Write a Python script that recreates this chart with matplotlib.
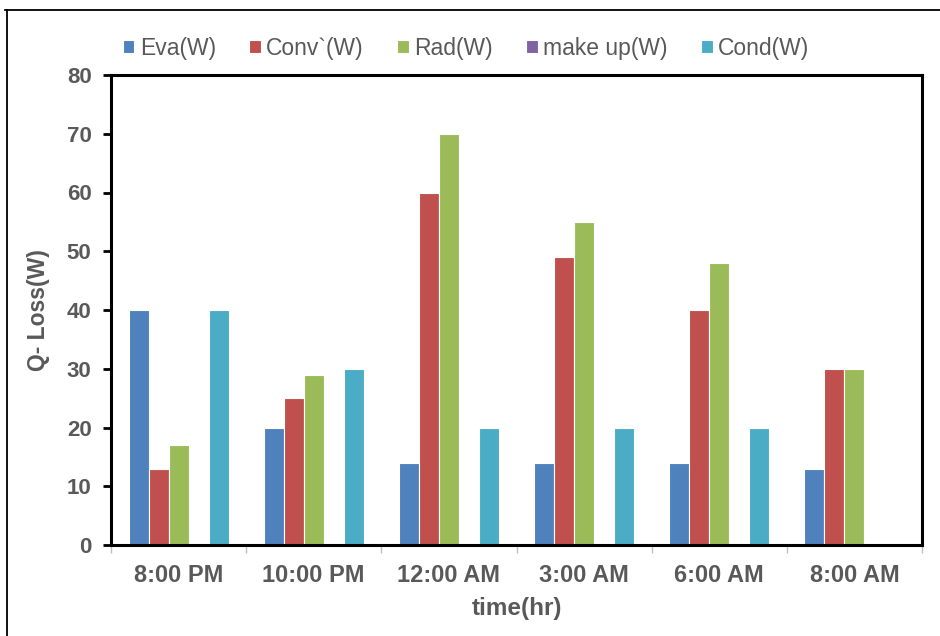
import matplotlib
matplotlib.use("Agg")
import matplotlib.pyplot as plt
import numpy as np
from matplotlib.lines import Line2D

categories = ["8:00 PM", "10:00 PM", "12:00 AM", "3:00 AM", "6:00 AM", "8:00 AM"]
series_names = ["Eva(W)", "Conv`(W)", "Rad(W)", "make up(W)", "Cond(W)"]
eva = [40, 20, 14, 14, 14, 13]
conv = [13, 25, 60, 49, 40, 30]
rad = [17, 29, 70, 55, 48, 30]
makeup = [0, 0, 0, 0, 0, 0]
cond = [40, 30, 20, 20, 20, 0]
yticks = [0, 10, 20, 30, 40, 50, 60, 70, 80]

colors = ["#4F81BD", "#C0504D", "#9BBB59", "#8064A2", "#4BACC6"]
txt = "#595959"

plt.rcParams['font.family'] = ['Liberation Sans', 'DejaVu Sans']

fig = plt.figure(figsize=(9.4, 6.36), dpi=100)
ax = fig.add_axes([111/940, 1 - 545/636, (922 - 111)/940, (545 - 75)/636])

x = np.arange(len(categories))
w = 0.148
data = [eva, conv, rad, makeup, cond]
for i, (name, vals, c) in enumerate(zip(series_names, data, colors)):
    ax.bar(x + (i - 2) * w, vals, width=w, color=c, edgecolor="white",
           linewidth=0.8, label=name, zorder=2)

ax.set_xlim(-0.5, len(categories) - 0.5)
ax.set_ylim(0, 80)
ax.set_yticks(yticks)
ax.set_yticklabels([str(v) for v in yticks], fontsize=16, fontweight="bold", color=txt)
ax.set_xticks(x)
ax.set_xticklabels(categories, fontsize=17, fontweight="bold", color=txt)
ax.set_xticks(np.arange(-0.5, len(categories)), minor=True)
ax.tick_params(axis="x", which="major", length=0, pad=14)
ax.tick_params(axis="x", which="minor", length=6, width=1, color="#BFBFBF", direction="out")
ax.tick_params(axis="y", length=6, width=2, color="black", pad=8)

for s in ax.spines.values():
    s.set_linewidth(2.2)
    s.set_color("black")

ax.set_ylabel("Q- Loss(W)", fontsize=16.5, fontweight="bold", color=txt, labelpad=12)
ax.set_xlabel("time(hr)", fontsize=17.5, fontweight="bold", color=txt, labelpad=7)

leg = fig.legend(loc="center", bbox_to_anchor=(466/940, 1 - 48/636), ncol=5,
                 frameon=False, fontsize=16.5, handlelength=0.5, handleheight=0.5,
                 handletextpad=0.25, columnspacing=1.45)
for t in leg.get_texts():
    t.set_color(txt)

# outer chart border (top and left)
fig.add_artist(Line2D([5/940, 1.0], [1 - 10/636, 1 - 10/636], color="black", lw=1.3,
                      transform=fig.transFigure))
fig.add_artist(Line2D([7/940, 7/940], [0, 1 - 10/636], color="black", lw=1.3,
                      transform=fig.transFigure))

fig.savefig("out.png", dpi=100)
